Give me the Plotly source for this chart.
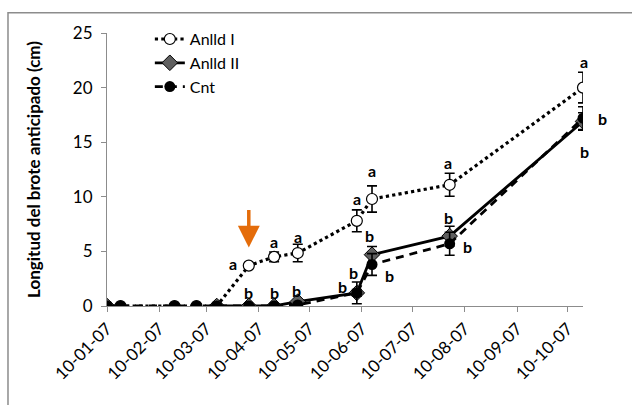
import plotly.graph_objects as go

# Sampling dates (dd-mm-yy axis labels)
dates = ["2007-01-10", "2007-01-18", "2007-02-19", "2007-03-04", "2007-03-16",
         "2007-04-04", "2007-04-19", "2007-05-03", "2007-06-07", "2007-06-16",
         "2007-08-01", "2007-10-19"]

# Shoot length (cm) and error per treatment
anlld1 = [0, 0, 0, 0, 0, 3.7, 4.5, 4.85, 7.8, 9.8, 11.1, 20.0]
anlld1_err = [0, 0, 0, 0, 0, 0, 0.45, 0.8, 1.0, 1.2, 1.05, 1.4]
anlld2 = [0, None, None, None, 0, 0, 0, 0.4, 1.2, 4.7, 6.4, 16.9]
anlld2_err = [0, 0, 0, 0, 0, 0, 0, 0, 0.3, 0.75, 0.9, 0.8]
cnt = [0, 0, 0, 0, 0, 0, 0, 0.1, 1.2, 3.8, 5.7, 17.2]
cnt_err = [0, 0, 0, 0, 0, 0, 0, 0, 1.0, 1.0, 1.05, 1.05]

tick_dates = ["2007-01-10", "2007-02-10", "2007-03-10", "2007-04-10", "2007-05-10",
              "2007-06-10", "2007-07-10", "2007-08-10", "2007-09-10", "2007-10-10"]
tick_text = ["10-01-07", "10-02-07", "10-03-07", "10-04-07", "10-05-07",
             "10-06-07", "10-07-07", "10-08-07", "10-09-07", "10-10-07"]

# Significance letters: (series, point index, letter, x shift px, y shift px)
letters = [
    ("I", 5, "a", -16, 2), ("I", 6, "a", 0, 15), ("I", 7, "a", 0, 17),
    ("I", 8, "a", 0, 22), ("I", 9, "a", 0, 28), ("I", 10, "a", -2, 22),
    ("I", 11, "a", 1, 26),
    ("II", 5, "b", 0, 14), ("II", 6, "b", 0, 14), ("II", 7, "b", -1, 11),
    ("II", 8, "b", -3, 20), ("II", 9, "b", -3, 19), ("II", 10, "b", -1, 19),
    ("II", 11, "b", 1, -30),
    ("C", 8, "b", -14, 6), ("C", 9, "b", 17, -11), ("C", 10, "b", 18, -3),
    ("C", 11, "b", 19, 0),
]
series_vals = {"I": anlld1, "II": anlld2, "C": cnt}

FONT = "Lato"

fig = go.Figure()
err_style = dict(type="data", thickness=1.6, width=5, color="black")

fig.add_trace(go.Scatter(
    x=dates, y=anlld1, name="Anlld I", mode="lines+markers",
    line=dict(color="black", width=3.2, dash="dot"),
    marker=dict(symbol="circle", size=11, color="white",
                line=dict(color="black", width=1.2)),
    error_y=dict(array=anlld1_err, **err_style),
))
fig.add_trace(go.Scatter(
    x=dates, y=anlld2, name="Anlld II", mode="lines+markers",
    line=dict(color="black", width=2.8),
    marker=dict(symbol="diamond", size=12, color="#5f5f5f",
                line=dict(color="black", width=1)),
    error_y=dict(array=anlld2_err, **err_style),
))
fig.add_trace(go.Scatter(
    x=dates, y=cnt, name="Cnt", mode="lines+markers",
    line=dict(color="black", width=2.8, dash="8px,6px"),
    marker=dict(symbol="circle", size=11, color="black"),
    error_y=dict(array=cnt_err, **err_style),
))

annotations = []
for key, idx, txt, dx, dy in letters:
    annotations.append(dict(
        x=dates[idx], y=series_vals[key][idx], text=txt, showarrow=False,
        xshift=dx, yshift=dy,
        font=dict(family=FONT, size=16, color="black", weight="bold"),
    ))

# Orange arrow marking the first treatment response
annotations.append(dict(
    x=dates[5], y=anlld1[5], ax=0, ay=-57, xref="x", yref="y",
    text="", showarrow=True, arrowhead=2, arrowsize=1.25, arrowwidth=3.5,
    arrowcolor="#E46C0A", standoff=18,
))

fig.update_layout(
    width=632, height=405,
    margin=dict(l=107, r=49, t=33, b=99),
    paper_bgcolor="white", plot_bgcolor="white",
    font=dict(family=FONT, size=16, color="black"),
    showlegend=True,
    legend=dict(x=0.09, y=1.04, xanchor="left", yanchor="top",
                bgcolor="rgba(0,0,0,0)", font=dict(family=FONT, size=16),
                tracegroupgap=0, itemsizing="trace"),
    annotations=annotations,
    shapes=[dict(type="rect", xref="paper", yref="paper",
                 x0=-0.208, x1=1.3, y0=-0.6, y1=1.074,
                 line=dict(color="#8c8c8c", width=1.5), layer="below")],
    xaxis=dict(
        type="date", range=["2007-01-10", "2007-10-19"],
        tickvals=tick_dates, ticktext=tick_text, tickangle=-45,
        showgrid=False, zeroline=False, showline=True,
        linecolor="#8c8c8c", linewidth=1,
        ticks="outside", ticklen=5, tickcolor="#8c8c8c",
        tickfont=dict(family=FONT, size=17),
    ),
    yaxis=dict(
        range=[0, 25], tickvals=[0, 5, 10, 15, 20, 25],
        showgrid=False, zeroline=False, showline=True,
        linecolor="#8c8c8c", linewidth=1,
        ticks="outside", ticklen=5, tickcolor="#8c8c8c",
        ticklabelstandoff=5,
        tickfont=dict(family=FONT, size=17),
        title=dict(text="Longitud del brote anticipado (cm)", standoff=27,
                   font=dict(family=FONT, size=17, weight="bold")),
    ),
)

fig.write_html("out.html")
